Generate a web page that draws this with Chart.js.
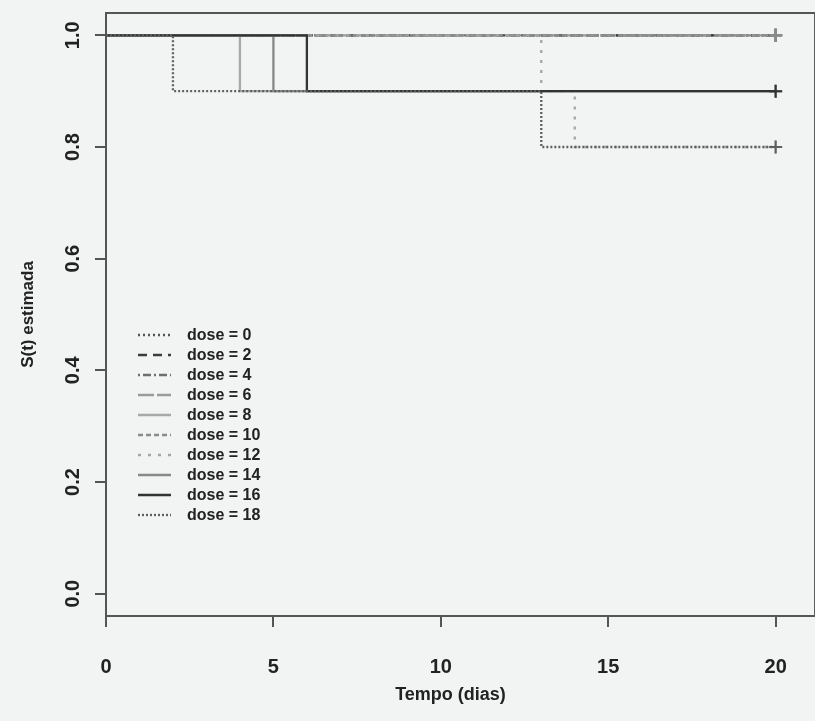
<!DOCTYPE html>
<html>
<head>
<meta charset="utf-8">
<script src="https://cdn.jsdelivr.net/npm/chart.js@4.4.1/dist/chart.umd.min.js"></script>
<style>
  html, body { margin: 0; padding: 0; background: #f2f3f3; }
  #wrap { width: 815px; height: 721px; }
</style>
</head>
<body>
<div id="wrap"><canvas id="chart" width="815" height="721"></canvas></div>
<script>
// Kaplan-Meier curves, one per dose group
const doses = [0, 2, 4, 6, 8, 10, 12, 14, 16, 18];
const eventTimes = [
  [0, 20], [0, 20], [0, 20], [0, 20], [0, 4, 20],
  [0, 20], [0, 13, 14, 20], [0, 5, 20], [0, 6, 20], [0, 2, 13, 20]
];
const survival = [
  [1, 1], [1, 1], [1, 1], [1, 1], [1, 0.9, 0.9],
  [1, 1], [1, 0.9, 0.8, 0.8], [1, 0.9, 0.9], [1, 0.9, 0.9], [1, 0.9, 0.8, 0.8]
];
const xTicks = [0, 5, 10, 15, 20];
const yTicks = [0, 0.2, 0.4, 0.6, 0.8, 1.0];

// line look per group (grey levels / dash patterns like the R plot)
const lineColors = ['#555', '#3c3c3c', '#6f6f6f', '#9a9a9a', '#a8a8a8', '#8a8a8a', '#a5a5a5', '#888', '#333', '#5f5f5f'];
const lineDashes = [[2, 3], [9, 6], [2, 3, 8, 3], [16, 3], [], [5, 3], [3, 7], [], [], [2, 2]];

const FONT = '"Liberation Sans", Arial, sans-serif';

const datasets = doses.map((d, i) => ({
  label: 'dose = ' + d,
  data: eventTimes[i].map((t, j) => ({ x: t, y: survival[i][j] })),
  stepped: 'before',
  borderColor: lineColors[i],
  borderDash: lineDashes[i],
  borderWidth: 2.3,
  pointStyle: 'cross',
  pointBorderColor: lineColors[i],
  pointBorderWidth: 2,
  pointRadius: ctx => (ctx.dataIndex === eventTimes[i].length - 1 ? 6.5 : 0),
  order: doses.length - i, // later groups drawn on top, like R
  fill: false
}));

const extras = {
  id: 'extras',
  beforeDraw(chart) {
    const ctx = chart.ctx;
    ctx.save();
    ctx.fillStyle = '#f2f3f3';
    ctx.fillRect(0, 0, chart.width, chart.height);
    ctx.restore();
  },
  afterDraw(chart) {
    const { ctx, chartArea: a, scales: { y } } = chart;
    ctx.save();
    // box (right side is off the picture)
    ctx.strokeStyle = '#555';
    ctx.lineWidth = 2;
    ctx.strokeRect(a.left, a.top, a.right - a.left + 20, a.bottom - a.top);

    // vertical y tick labels
    ctx.font = 'bold 20px ' + FONT;
    ctx.fillStyle = '#222';
    ctx.textAlign = 'center';
    ctx.textBaseline = 'middle';
    yTicks.forEach(v => {
      ctx.save();
      ctx.translate(73, y.getPixelForValue(v));
      ctx.rotate(-Math.PI / 2);
      ctx.fillText(v.toFixed(1), 0, 0);
      ctx.restore();
    });

    // legend, bottom-left inside the plot
    ctx.font = 'bold 16px ' + FONT;
    ctx.textAlign = 'left';
    chart.data.datasets.forEach((ds, i) => {
      const ly = 335 + i * 20;
      ctx.strokeStyle = ds.borderColor;
      ctx.lineWidth = 2.3;
      ctx.setLineDash(ds.borderDash);
      ctx.beginPath();
      ctx.moveTo(138, ly);
      ctx.lineTo(171, ly);
      ctx.stroke();
      ctx.setLineDash([]);
      ctx.fillStyle = '#222';
      ctx.fillText(ds.label, 187, ly + 1);
    });
    ctx.restore();
  }
};

new Chart(document.getElementById('chart'), {
  type: 'line',
  data: { datasets: datasets },
  options: {
    responsive: false,
    animation: false,
    layout: { padding: { top: 13, right: 0, left: 0, bottom: 0 } },
    plugins: { legend: { display: false }, tooltip: { enabled: false } },
    scales: {
      x: {
        type: 'linear',
        min: 0,
        max: 20.58,
        afterBuildTicks: s => { s.ticks = xTicks.map(v => ({ value: v })); },
        afterFit: s => { s.height = 105; },
        border: { display: false },
        grid: { drawOnChartArea: false, drawTicks: true, tickLength: 11, color: '#555', lineWidth: 2 },
        ticks: { font: { family: FONT, size: 20, weight: 'bold' }, color: '#222', padding: 28, maxRotation: 0 },
        title: {
          display: true,
          text: 'Tempo (dias)',
          font: { family: FONT, size: 18, weight: 'bold' },
          color: '#222',
          padding: { top: 0, bottom: 15 }
        }
      },
      y: {
        type: 'linear',
        min: -0.04,
        max: 1.04,
        afterBuildTicks: s => { s.ticks = yTicks.map(v => ({ value: v })); },
        afterFit: s => { s.width = 106; },
        border: { display: false },
        grid: { drawOnChartArea: false, drawTicks: true, tickLength: 11, color: '#555', lineWidth: 2 },
        ticks: { callback: () => '' },
        title: {
          display: true,
          text: 'S(t) estimada',
          font: { family: FONT, size: 17, weight: 'bold' },
          color: '#222',
          padding: { top: 18, bottom: 0 }
        }
      }
    }
  },
  plugins: [extras]
});
</script>
</body>
</html>
